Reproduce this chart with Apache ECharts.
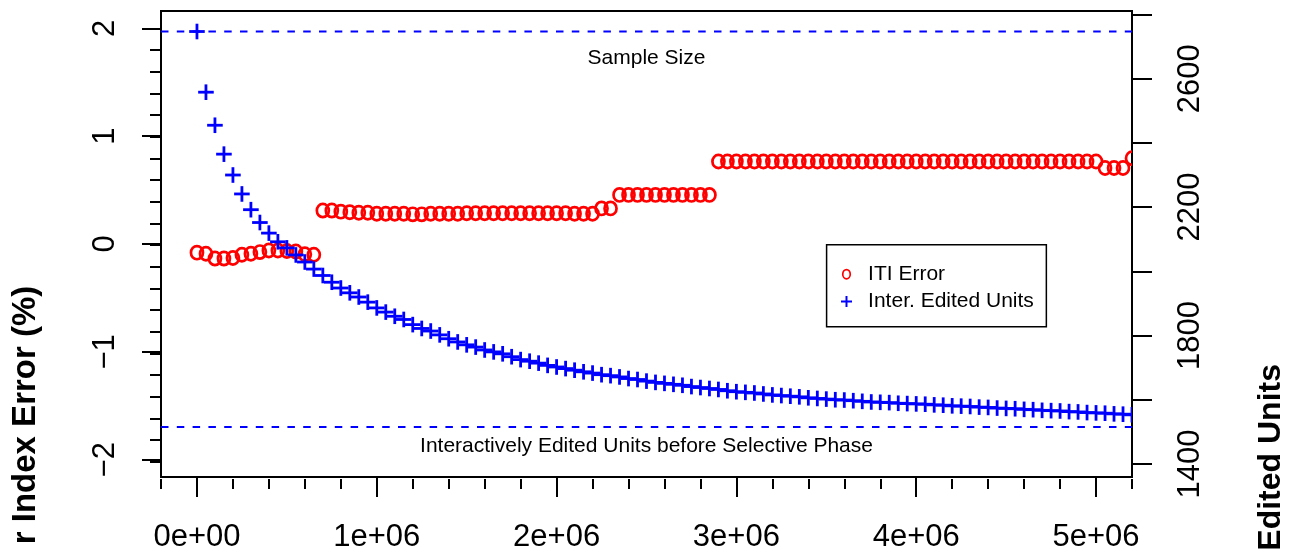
<!DOCTYPE html>
<html>
<head>
<meta charset="utf-8">
<script src="https://cdn.jsdelivr.net/npm/echarts@6/dist/echarts.min.js"></script>
<style>
html, body { margin: 0; padding: 0; background: #fff; }
#chart { width: 1289px; height: 553px; }
</style>
</head>
<body>
<div id="chart"></div>
<script>
// ---------- data ----------
const xValues = [0, 50000, 100000, 150000, 200000, 250000, 300000, 350000, 400000, 450000,
  500000, 550000, 600000, 650000, 700000, 750000, 800000, 850000, 900000, 950000,
  1000000, 1050000, 1100000, 1150000, 1200000, 1250000, 1300000, 1350000, 1400000, 1450000,
  1500000, 1550000, 1600000, 1650000, 1700000, 1750000, 1800000, 1850000, 1900000, 1950000,
  2000000, 2050000, 2100000, 2150000, 2200000, 2250000, 2300000, 2350000, 2400000, 2450000,
  2500000, 2550000, 2600000, 2650000, 2700000, 2750000, 2800000, 2850000, 2900000, 2950000,
  3000000, 3050000, 3100000, 3150000, 3200000, 3250000, 3300000, 3350000, 3400000, 3450000,
  3500000, 3550000, 3600000, 3650000, 3700000, 3750000, 3800000, 3850000, 3900000, 3950000,
  4000000, 4050000, 4100000, 4150000, 4200000, 4250000, 4300000, 4350000, 4400000, 4450000,
  4500000, 4550000, 4600000, 4650000, 4700000, 4750000, 4800000, 4850000, 4900000, 4950000,
  5000000, 5050000, 5100000, 5150000, 5200000];

const itiError = [-0.08, -0.09, -0.135, -0.135, -0.13, -0.10, -0.09, -0.075, -0.06, -0.06,
  -0.065, -0.07, -0.095, -0.10, 0.31, 0.31, 0.30, 0.295, 0.29, 0.29,
  0.28, 0.28, 0.28, 0.28, 0.275, 0.275, 0.28, 0.28, 0.28, 0.28,
  0.285, 0.285, 0.285, 0.285, 0.285, 0.285, 0.285, 0.285, 0.285, 0.285,
  0.285, 0.285, 0.28, 0.28, 0.28, 0.33, 0.33, 0.455, 0.455, 0.455,
  0.455, 0.455, 0.455, 0.455, 0.455, 0.455, 0.455, 0.455, 0.765, 0.765,
  0.765, 0.765, 0.765, 0.765, 0.765, 0.765, 0.765, 0.765, 0.765, 0.765,
  0.765, 0.765, 0.765, 0.765, 0.765, 0.765, 0.765, 0.765, 0.765, 0.765,
  0.765, 0.765, 0.765, 0.765, 0.765, 0.765, 0.765, 0.765, 0.765, 0.765,
  0.765, 0.765, 0.765, 0.765, 0.765, 0.765, 0.765, 0.765, 0.765, 0.765,
  0.765, 0.705, 0.705, 0.705, 0.795];

const editedUnits = [2747, 2558, 2455, 2365, 2300, 2241, 2192, 2152, 2119, 2092,
  2073, 2051, 2029, 2007, 1987, 1966, 1948, 1933, 1920, 1904,
  1886, 1873, 1860, 1850, 1834, 1822, 1814, 1802, 1790, 1780,
  1771, 1764, 1755, 1749, 1743, 1734, 1725, 1720, 1714, 1707,
  1702, 1697, 1692, 1687, 1683, 1678, 1675, 1671, 1666, 1663,
  1658, 1654, 1651, 1648, 1645, 1641, 1638, 1635, 1632, 1628,
  1625, 1623, 1621, 1618, 1615, 1613, 1611, 1609, 1606, 1604,
  1602, 1600, 1599, 1597, 1595, 1593, 1592, 1591, 1589, 1588,
  1587, 1586, 1584, 1583, 1581, 1580, 1579, 1577, 1576, 1574,
  1573, 1572, 1570, 1569, 1567, 1566, 1565, 1563, 1562, 1560,
  1559, 1558, 1556, 1555, 1553];

const seriesNames = ['ITI Error', 'Inter. Edited Units'];
const refLineValues = [2747, 1515];
const annotationTexts = ['Sample Size', 'Interactively Edited Units before Selective Phase'];
const annotationX = 2500000;
const annotationY = [2663, 1455];

const xMajorTicks = [0, 1000000, 2000000, 3000000, 4000000, 5000000];
const xMinorTicks = [-200000, 0, 200000, 400000, 600000, 800000, 1000000, 1200000, 1400000,
  1600000, 1800000, 2000000, 2200000, 2400000, 2600000, 2800000, 3000000, 3200000, 3400000,
  3600000, 3800000, 4000000, 4200000, 4400000, 4600000, 4800000, 5000000, 5200000];
const leftMajorTicks = [-2, -1, 0, 1, 2];
const leftMinorTicks = [-2, -1.8, -1.6, -1.4, -1.2, -1, -0.8, -0.6, -0.4, -0.2, 0,
  0.2, 0.4, 0.6, 0.8, 1, 1.2, 1.4, 1.6, 1.8, 2];
const rightTicks = [1400, 1600, 1800, 2000, 2200, 2400, 2600, 2800];
const rightLabels = [1400, 1800, 2200, 2600];
const leftTitle = 'r Index Error (%)';
const rightTitle = 'Edited Units';

// ---------- styling ----------
const FONT = "'Liberation Sans', Arial, Helvetica, sans-serif";
const RED = '#ff0000';
const BLUE = '#0000ff';
const X_MIN = -200000, X_MAX = 5200000;
const YL_MIN = -2.16, YL_MAX = 2.16;
const YR_MIN = 1359.3, YR_MAX = 2810.9;
const GRID = { left: 161, top: 11, width: 971, height: 468 };

function sci(v) {
  if (v === 0) return '0e+00';
  const e = Math.floor(Math.log10(Math.abs(v)) + 1e-9);
  const m = Math.round(v / Math.pow(10, e));
  return m + 'e' + (e >= 0 ? '+' : '-') + String(Math.abs(e)).padStart(2, '0');
}
function rnum(v) { return v < 0 ? '\u2212' + Math.abs(v) : String(v); }
function plain(v) { return String(v); }

const tickStyle = { color: '#000', width: 2 };
const labelBase = { color: '#000', fontFamily: FONT, fontSize: 31 };
const noLine = { show: false, onZero: false };

const ringIcon = 'path://M0,5.5A4.6,5.5 0 1,1 9.2,5.5A4.6,5.5 0 1,1 0,5.5ZM1.7,5.5A2.9,3.8 0 1,0 7.5,5.5A2.9,3.8 0 1,0 1.7,5.5Z';
const plusIcon = 'path://M4.1,0H5.9V4.1H10V5.9H5.9V10H4.1V5.9H0V4.1H4.1Z';

const chart = echarts.init(document.getElementById('chart'), null, { renderer: 'canvas' });

const option = {
  animation: false,
  backgroundColor: '#fff',
  grid: [
    Object.assign({ show: true, borderColor: '#000', borderWidth: 2, backgroundColor: 'transparent', containLabel: false }, GRID),
    Object.assign({ show: false, containLabel: false }, GRID)
  ],
  xAxis: [
    {
      gridIndex: 0, type: 'value', position: 'bottom', min: X_MIN, max: X_MAX,
      axisLine: noLine,
      axisTick: { show: true, customValues: xMajorTicks, length: 20, lineStyle: tickStyle },
      axisLabel: Object.assign({ customValues: xMajorTicks, margin: 45, formatter: sci }, labelBase),
      splitLine: { show: false }
    },
    {
      gridIndex: 1, type: 'value', position: 'bottom', min: X_MIN, max: X_MAX,
      axisLine: noLine,
      axisTick: { show: true, customValues: xMinorTicks, length: 10, lineStyle: tickStyle },
      axisLabel: { show: false },
      splitLine: { show: false }
    }
  ],
  yAxis: [
    {
      gridIndex: 0, type: 'value', position: 'left', min: YL_MIN, max: YL_MAX,
      axisLine: noLine,
      axisTick: { show: true, customValues: leftMajorTicks, length: 19, lineStyle: tickStyle },
      axisLabel: Object.assign({ customValues: leftMajorTicks, margin: 40, rotate: 90, formatter: rnum }, labelBase),
      splitLine: { show: false }
    },
    {
      gridIndex: 0, type: 'value', position: 'right', min: YR_MIN, max: YR_MAX,
      axisLine: noLine,
      axisTick: { show: true, customValues: rightTicks, length: 20, lineStyle: tickStyle },
      axisLabel: Object.assign({ customValues: rightLabels, margin: 43, rotate: 90, formatter: plain }, labelBase),
      splitLine: { show: false }
    },
    {
      gridIndex: 1, type: 'value', position: 'left', min: YL_MIN, max: YL_MAX,
      axisLine: noLine,
      axisTick: { show: true, customValues: leftMinorTicks, length: 11, lineStyle: tickStyle },
      axisLabel: { show: false },
      splitLine: { show: false }
    }
  ],
  legend: {
    show: true,
    orient: 'vertical',
    left: 826.6, top: 244.7,
    padding: [17.5, 12.5, 13.2, 14.4],
    itemWidth: 33.2, itemHeight: 11, itemGap: 3.3,
    borderColor: '#000', borderWidth: 1.5, backgroundColor: '#fff',
    selectedMode: false,
    textStyle: { color: '#000', fontFamily: FONT, fontSize: 21, lineHeight: 24 },
    data: [
      { name: seriesNames[0], icon: ringIcon, itemStyle: { color: RED } },
      { name: seriesNames[1], icon: plusIcon, itemStyle: { color: BLUE } }
    ]
  },
  series: [
    {
      type: 'custom', name: 'reference lines', xAxisIndex: 0, yAxisIndex: 1, clip: true, silent: true,
      data: refLineValues.map(v => [annotationX, v]),
      renderItem: function (params, api) {
        const cs = params.coordSys;
        const y = api.coord([api.value(0), api.value(1)])[1];
        return { type: 'line', shape: { x1: cs.x, y1: y, x2: cs.x + cs.width, y2: y },
          style: { stroke: BLUE, lineWidth: 2, lineDash: [7.5, 8.3], fill: null } };
      }
    },
    {
      type: 'custom', name: 'annotations', xAxisIndex: 0, yAxisIndex: 1, clip: false, silent: true,
      data: annotationY.map(v => [annotationX, v]),
      renderItem: function (params, api) {
        const p = api.coord([api.value(0), api.value(1)]);
        return { type: 'text', x: p[0], y: p[1],
          style: { text: annotationTexts[params.dataIndex], textAlign: 'center', textVerticalAlign: 'middle',
            font: '21px ' + FONT, fill: '#000' } };
      }
    },
    {
      type: 'custom', name: seriesNames[0], xAxisIndex: 0, yAxisIndex: 0, clip: true,
      itemStyle: { color: RED },
      data: xValues.map((x, i) => [x, itiError[i]]),
      renderItem: function (params, api) {
        const p = api.coord([api.value(0), api.value(1)]);
        return { type: 'ellipse', shape: { cx: p[0], cy: p[1], rx: 6.0, ry: 6.6 },
          style: { fill: 'none', stroke: RED, lineWidth: 2.7 } };
      }
    },
    {
      type: 'custom', name: seriesNames[1], xAxisIndex: 0, yAxisIndex: 1, clip: true,
      itemStyle: { color: BLUE },
      data: xValues.map((x, i) => [x, editedUnits[i]]),
      renderItem: function (params, api) {
        const p = api.coord([api.value(0), api.value(1)]);
        const h = 7.8;
        const st = { stroke: BLUE, lineWidth: 2.8, fill: null };
        return { type: 'group', children: [
          { type: 'line', shape: { x1: p[0] - h, y1: p[1], x2: p[0] + h, y2: p[1] }, style: st },
          { type: 'line', shape: { x1: p[0], y1: p[1] - h, x2: p[0], y2: p[1] + h }, style: st }
        ] };
      }
    }
  ],
  graphic: [
    { type: 'text', x: 26, y: 285.7, rotation: Math.PI / 2, silent: true,
      style: { text: leftTitle, textAlign: 'right', textVerticalAlign: 'middle', font: 'bold 33px ' + FONT, fill: '#000' } },
    { type: 'text', x: 1271, y: 364, rotation: Math.PI / 2, silent: true,
      style: { text: rightTitle, textAlign: 'right', textVerticalAlign: 'middle', font: 'bold 32px ' + FONT, fill: '#000' } }
  ]
};

chart.setOption(option);
</script>
</body>
</html>
